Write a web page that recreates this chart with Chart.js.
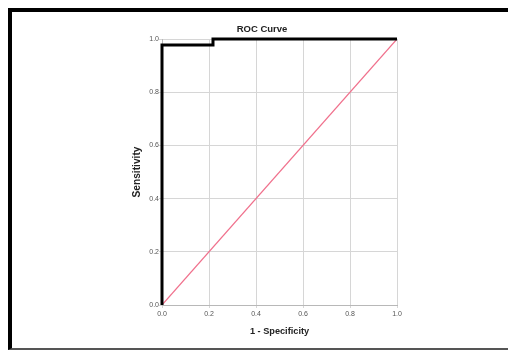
<!DOCTYPE html>
<html>
<head>
<meta charset="utf-8">
<script src="https://cdn.jsdelivr.net/npm/chart.js@4"></script>
<style>
  html, body { margin: 0; padding: 0; background: #fff; }
  #wrap { position: relative; width: 508px; height: 350px; overflow: hidden; }
  #frame { position: absolute; left: 8px; top: 8px; right: -10px; height: 336px;
           border-left: 4px solid #000; border-top: 4px solid #000; border-bottom: 2px solid #555;
           pointer-events: none; }
  canvas { position: absolute; left: 0; top: 0; }
</style>
</head>
<body>
<div id="wrap">
  <canvas id="c" width="508" height="350"></canvas>
  <div id="frame"></div>
</div>
<script>
// Data
const chartTitle = "ROC Curve";
const xAxisTitle = "1 - Specificity";
const yAxisTitle = "Sensitivity";
const rocSpecificity = [0.0, 0.0, 0.217, 0.217, 1.0];   // 1 - Specificity
const rocSensitivity = [0.0, 0.977, 0.977, 1.0, 1.0];
const refX = [0.0, 1.0];
const refY = [0.0, 1.0];
const tickValues = [0.0, 0.2, 0.4, 0.6, 0.8, 1.0];

const rocPoints = rocSpecificity.map((x, i) => ({ x: x, y: rocSensitivity[i] }));
const refPoints = refX.map((x, i) => ({ x: x, y: refY[i] }));

const titlePlugin = {
  id: 'customTitle',
  afterDraw(chart) {
    const ctx = chart.ctx;
    ctx.save();
    ctx.font = 'bold 9.5px "Liberation Sans", Arial, sans-serif';
    ctx.fillStyle = '#222';
    ctx.textAlign = 'center';
    ctx.textBaseline = 'middle';
    ctx.fillText(chartTitle, 262, 29);
    ctx.restore();
  }
};

const tickFont = { family: '"Liberation Sans", Arial, sans-serif', size: 7 };
const gridOpts = { color: '#d6d6d6', lineWidth: 1, tickLength: 3, drawTicks: true };

new Chart(document.getElementById('c'), {
  type: 'scatter',
  data: {
    datasets: [
      {
        label: 'Reference',
        data: refPoints,
        showLine: true,
        borderColor: '#f0708c',
        borderWidth: 1.2,
        pointRadius: 0,
        fill: false,
        order: 2
      },
      {
        label: 'ROC',
        data: rocPoints,
        showLine: true,
        borderColor: '#000',
        borderWidth: 3,
        pointRadius: 0,
        fill: false,
        clip: false,
        borderJoinStyle: 'miter',
        order: 1
      }
    ]
  },
  options: {
    responsive: false,
    animation: false,
    devicePixelRatio: 1,
    layout: { padding: { left: 125, top: 39, right: 111, bottom: 10 } },
    plugins: {
      legend: { display: false },
      tooltip: { enabled: false },
      title: { display: false }
    },
    scales: {
      x: {
        type: 'linear',
        min: 0, max: 1,
        afterBuildTicks(scale) { scale.ticks = tickValues.map(v => ({ value: v })); },
        afterFit(scale) { scale.height = 35; },
        ticks: {
          font: tickFont, color: '#555', padding: 2, maxRotation: 0,
          callback: v => Number(v).toFixed(1)
        },
        grid: gridOpts,
        border: { color: '#b8b8b8', width: 1 },
        title: {
          display: true, text: xAxisTitle, color: '#222',
          font: { family: '"Liberation Sans", Arial, sans-serif', size: 9.2, weight: 'bold' },
          padding: { top: 0, bottom: 2.6 }
        }
      },
      y: {
        type: 'linear',
        min: 0, max: 1,
        afterBuildTicks(scale) { scale.ticks = tickValues.map(v => ({ value: v })); },
        afterFit(scale) { scale.width = 37; },
        ticks: {
          font: tickFont, color: '#555', padding: 0,
          callback: v => Number(v).toFixed(1)
        },
        grid: gridOpts,
        border: { color: '#b8b8b8', width: 1 },
        title: {
          display: true, text: yAxisTitle, color: '#222',
          font: { family: '"Liberation Sans", Arial, sans-serif', size: 10.2, weight: 'bold' },
          padding: { top: 5.6, bottom: 0 }
        }
      }
    }
  },
  plugins: [titlePlugin]
});
</script>
</body>
</html>
